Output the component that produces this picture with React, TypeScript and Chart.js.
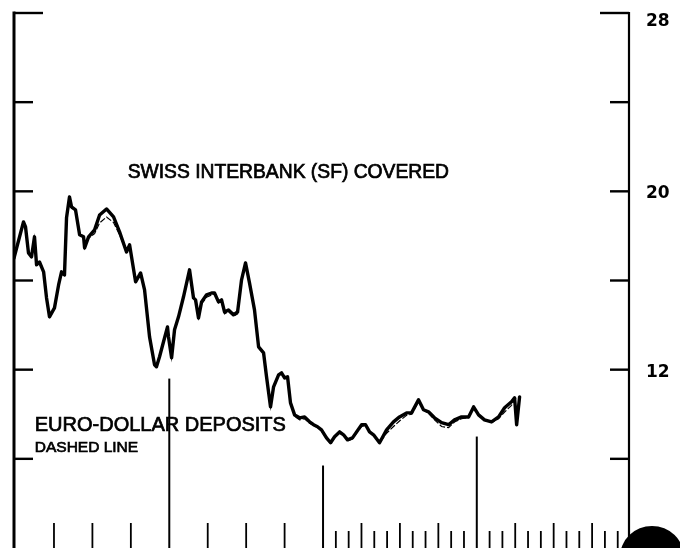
import React, { useEffect, useRef } from "react";
import { Chart, registerables } from "chart.js";

Chart.register(...registerables);

// Months since start of first year (x axis spans 4 years = 48 months)
const months = [
  -0.12, 0.62, 0.78, 1.01, 1.25, 1.48, 1.64, 1.87, 2.19, 2.42, 2.65, 3.04, 3.36, 3.59, 3.82, 3.98, 4.21, 4.37, 4.68, 5.0,
  5.31, 5.39, 5.7, 6.17, 6.56, 7.1, 7.65, 8.12, 8.66, 8.9, 9.37, 9.76, 10.07, 10.46, 10.85, 11.0, 11.24, 11.55, 11.86, 11.94,
  12.18, 12.41, 12.72, 13.11, 13.58, 13.89, 14.05, 14.28, 14.52, 14.91, 15.3, 15.53, 15.84, 16.08, 16.31, 16.62, 17.01, 17.33, 17.64, 17.95,
  18.26, 18.65, 18.97, 19.36, 19.59, 19.9, 20.14, 20.53, 20.76, 21.0, 21.23, 21.46, 21.78, 22.17, 22.56, 22.95, 23.26, 23.57, 23.88, 24.27,
  24.59, 24.9, 25.29, 25.6, 25.91, 26.3, 26.62, 27.01, 27.32, 27.63, 27.94, 28.41, 28.96, 29.5, 29.97, 30.52, 30.91, 31.45, 31.84, 32.23,
  32.7, 33.25, 33.8, 34.26, 34.81, 35.36, 35.75, 36.14, 36.6, 37.15, 37.7, 38.17, 38.71, 38.95, 39.11, 39.34,
];

// Swiss interbank (SF) covered rate, percent
const swissRates = [
  17.01, 18.63, 18.4, 17.24, 17.06, 17.96, 16.7, 16.83, 16.39, 15.22, 14.37, 14.77, 15.8, 16.39, 16.25, 18.81, 19.75, 19.3, 19.17, 18.05,
  17.96, 17.46, 17.96, 18.27, 18.94, 19.21, 18.85, 18.18, 17.28, 17.6, 15.94, 16.34, 15.58, 13.47, 12.22, 12.13, 12.58, 13.25, 13.92, 13.47,
  12.53, 13.79, 14.37, 15.27, 16.48, 15.22, 15.13, 14.32, 15.04, 15.36, 15.44, 15.44, 15.04, 15.13, 14.59, 14.68, 14.46, 14.59, 16.03, 16.79,
  15.89, 14.68, 13.02, 12.75, 11.68, 10.33, 11.23, 11.77, 11.86, 11.63, 11.68, 10.51, 9.97, 9.84, 9.88, 9.66, 9.53, 9.44, 9.3, 8.94,
  8.72, 8.99, 9.21, 9.08, 8.85, 8.94, 9.21, 9.53, 9.53, 9.21, 9.08, 8.72, 9.3, 9.66, 9.88, 10.06, 10.06, 10.65, 10.2, 10.11,
  9.84, 9.62, 9.53, 9.75, 9.88, 9.88, 10.33, 9.97, 9.75, 9.66, 9.88, 10.29, 10.56, 10.74, 9.53, 10.78,
];

// Euro-dollar deposit rate, percent (dashed line)
const euroRates = [
  17.01, 18.6, 18.38, 17.24, 17.06, 17.9, 16.7, 16.83, 16.39, 15.22, 14.37, 14.77, 15.8, 16.39, 16.25, 18.75, 19.68, 19.25, 19.1, 18.05,
  17.96, 17.46, 17.9, 18.1, 18.58, 18.85, 18.6, 18.05, 17.28, 17.55, 15.94, 16.3, 15.58, 13.47, 12.22, 12.13, 12.58, 13.2, 13.85, 13.47,
  12.53, 13.75, 14.3, 15.2, 16.4, 15.22, 15.05, 14.32, 14.95, 15.25, 15.35, 15.4, 15.0, 15.05, 14.5, 14.6, 14.4, 14.5, 16.0, 16.75,
  15.89, 14.68, 13.02, 12.75, 11.68, 10.33, 11.23, 11.77, 11.86, 11.63, 11.68, 10.51, 9.9, 9.75, 9.8, 9.6, 9.5, 9.4, 9.25, 8.9,
  8.7, 8.95, 9.15, 9.05, 8.8, 8.9, 9.15, 9.45, 9.5, 9.2, 9.05, 8.72, 9.15, 9.45, 9.7, 9.95, 10.0, 10.55, 10.2, 10.05,
  9.75, 9.45, 9.4, 9.65, 9.8, 9.85, 10.25, 9.95, 9.72, 9.62, 9.8, 10.1, 10.4, 10.68, 10.75, null,
];

// Axis ticks
const yTickValues = [28, 24, 20, 16, 12, 8];
const yLabelValues = [28, 20, 12];
const quarterTickMonths = [3, 6, 9, 15, 18, 21, 27, 30, 33, 39, 42, 45];
const monthTickMonths = [25, 26, 28, 29, 31, 32, 34, 35, 37, 38, 40, 41, 43, 44, 46, 47];
const yearLineMonths = [12, 24, 36];
const yearLineTops = [11.6, 7.7, 9.0];

// Text annotations
const noteTexts = ["SWISS INTERBANK (SF) COVERED", "EURO-DOLLAR DEPOSITS", "DASHED LINE"];
const noteMonths = [8.75, 1.5, 1.5];
const noteValues = [20.85, 9.5, 8.5];
const noteFonts = ['19.3px "Liberation Sans"', '20px "Liberation Sans"', '15.5px "Liberation Sans"'];

const decorPlugin = {
  id: "decor",
  beforeDatasetsDraw(chart: any) {
    const { ctx, chartArea, scales } = chart;
    const { left, right, top, bottom } = chartArea;
    const x = scales.x;
    const y = scales.y;
    const seg = (x1: number, y1: number, x2: number, y2: number) => {
      ctx.beginPath();
      ctx.moveTo(x1, y1);
      ctx.lineTo(x2, y2);
      ctx.stroke();
    };
    ctx.save();
    ctx.strokeStyle = "#000";
    ctx.lineCap = "butt";
    // axes
    ctx.lineWidth = 3;
    seg(left, top - 1.5, left, bottom);
    ctx.lineWidth = 2.2;
    seg(right, top - 1, right, bottom);
    // y ticks (inward on both sides)
    ctx.lineWidth = 2.4;
    yTickValues.forEach((v) => {
      const py = y.getPixelForValue(v);
      const len = v === yTickValues[0] ? 29 : 19;
      seg(left, py, left + len, py);
      seg(right, py, right - len, py);
    });
    // bottom ticks
    ctx.lineWidth = 1.8;
    quarterTickMonths.forEach((m) => {
      const px = x.getPixelForValue(m);
      seg(px, bottom, px, bottom - 25);
    });
    monthTickMonths.forEach((m) => {
      const px = x.getPixelForValue(m);
      seg(px, bottom, px, bottom - 17);
    });
    // year separators
    ctx.lineWidth = 2;
    yearLineMonths.forEach((m, i) => {
      const px = x.getPixelForValue(m);
      seg(px, bottom, px, y.getPixelForValue(yearLineTops[i]));
    });
    ctx.restore();
  },
  afterDraw(chart: any) {
    const { ctx, scales, chartArea } = chart;
    const x = scales.x;
    const y = scales.y;
    ctx.save();
    ctx.fillStyle = "#000";
    ctx.strokeStyle = "#000";
    ctx.lineWidth = 0.7;
    ctx.textBaseline = "middle";
    ctx.textAlign = "left";
    noteTexts.forEach((t, i) => {
      ctx.font = noteFonts[i];
      const px = x.getPixelForValue(noteMonths[i]);
      const py = y.getPixelForValue(noteValues[i]);
      ctx.fillText(t, px, py);
      ctx.strokeText(t, px, py);
    });
    // scan blemish at lower right corner
    ctx.beginPath();
    ctx.ellipse(chartArea.right + 23, chartArea.bottom + 9, 32, 31, 0, 0, Math.PI * 2);
    ctx.fill();
    ctx.restore();
  },
};

export default function App() {
  const ref = useRef<HTMLCanvasElement | null>(null);
  useEffect(() => {
    document.body.style.margin = "0";
    const canvas = ref.current;
    if (!canvas) return;
    const chart = new Chart(canvas, {
      type: "line",
      data: {
        datasets: [
          {
            label: "Swiss Interbank (SF) covered",
            data: months.map((m, i) => ({ x: m, y: swissRates[i] })),
            borderColor: "#000",
            borderWidth: 3.4,
            pointRadius: 0,
            tension: 0,
            borderJoinStyle: "round",
            borderCapStyle: "round",
          },
          {
            label: "Euro-dollar deposits",
            data: months.map((m, i) => ({ x: m, y: euroRates[i] })),
            borderColor: "#000",
            borderWidth: 1.2,
            borderDash: [6, 2],
            pointRadius: 0,
            tension: 0,
            spanGaps: false,
          },
        ],
      },
      options: {
        animation: false,
        responsive: false,
        maintainAspectRatio: false,
        layout: { padding: { left: 14, top: 13, right: 0, bottom: 0 } },
        plugins: { legend: { display: false }, tooltip: { enabled: false } },
        scales: {
          x: { type: "linear", min: -0.12, max: 47.88, display: false },
          y: {
            type: "linear",
            position: "right",
            min: 4,
            max: 28,
            grid: { display: false, drawTicks: false },
            border: { display: false },
            afterBuildTicks: (s: any) => {
              s.ticks = yLabelValues.map((v) => ({ value: v }));
            },
            afterFit: (s: any) => {
              s.width = 51;
              s.paddingTop = 0;
              s.paddingBottom = 0;
            },
            ticks: {
              padding: 17,
              color: "#000",
              font: (c: any) => ({
                family: '"DejaVu Sans"',
                size: 17,
                weight: "bold",
                lineHeight: c.tick && c.tick.value === 28 ? 1.04 : 0.3,
              }),
              callback: (v: any) => ["", String(v)],
            },
          },
        },
      },
      plugins: [decorPlugin],
    } as any);
    return () => chart.destroy();
  }, []);
  return <canvas ref={ref} width={680} height={548} style={{ display: "block" }} />;
}
